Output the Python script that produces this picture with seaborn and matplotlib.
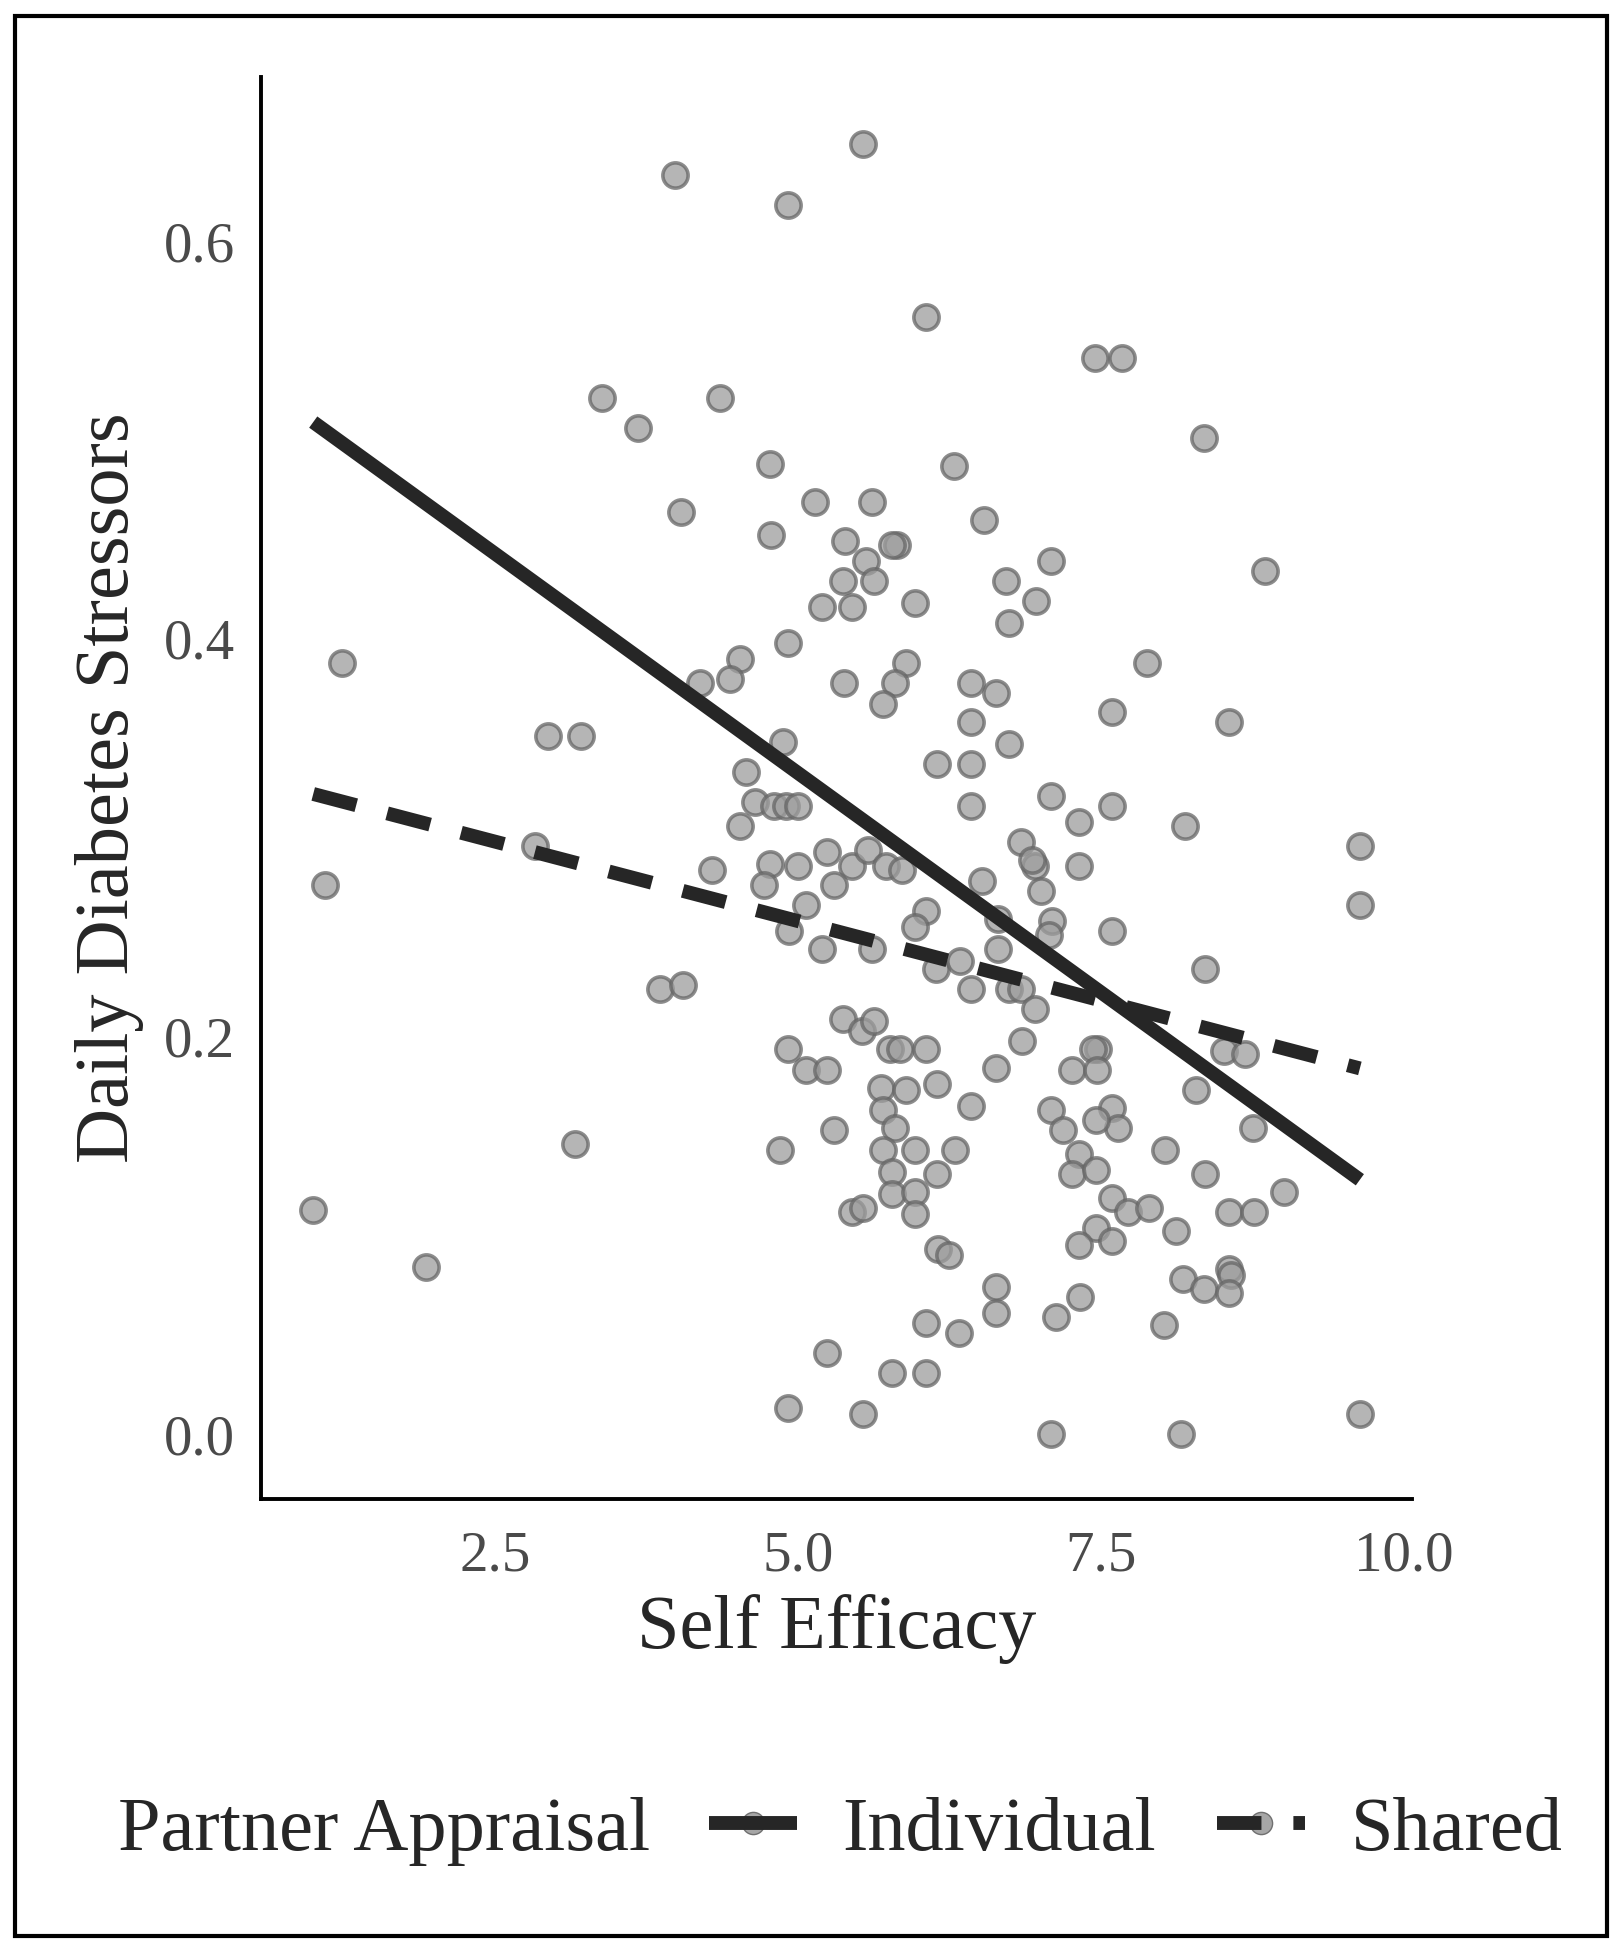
import pandas as pd
import numpy as np
import seaborn as sns
import matplotlib.pyplot as plt
from matplotlib.lines import Line2D
from matplotlib.legend_handler import HandlerTuple
from matplotlib.patches import Rectangle

sns.set_style("white")
plt.rcParams['font.family'] = ['Liberation Serif', 'DejaVu Serif']

self_efficacy = [
    5.54, 3.99, 4.92, 6.06, 7.45, 7.68, 3.38, 4.36, 3.68, 8.35,
    4.77, 6.29, 5.14, 5.61, 4.04, 6.54, 4.78, 5.39, 5.82, 5.78,
    7.09, 8.86, 5.56, 5.37, 5.63, 6.72, 5.97, 6.97, 5.20, 5.45,
    6.74, 4.92, 1.24, 7.88, 5.89, 4.52, 4.44, 4.19, 5.38, 5.80,
    6.43, 6.64, 5.70, 7.59, 6.43, 8.56, 2.94, 3.21, 6.74, 4.88,
    4.57, 6.15, 6.43, 7.09, 4.65, 4.80, 4.90, 5.00, 6.43, 7.59,
    4.52, 7.32, 8.20, 2.83, 5.24, 6.84, 9.64, 5.45, 5.58, 5.73,
    5.86, 4.29, 4.77, 5.00, 6.96, 6.93, 7.32, 1.10, 4.72, 5.30,
    6.52, 7.01, 7.10, 7.07, 5.07, 9.64, 6.06, 6.65, 4.93, 5.97,
    7.59, 5.20, 5.61, 6.65, 6.14, 6.34, 8.36, 3.86, 4.05, 6.43,
    6.74, 6.84, 6.96, 5.37, 5.53, 5.63, 5.76, 5.84, 6.06, 4.92,
    6.85, 7.48, 7.44, 7.26, 7.47, 5.07, 5.24, 6.64, 8.52, 8.69,
    5.69, 5.89, 6.15, 8.29, 6.43, 5.70, 7.09, 7.59, 5.80, 5.30,
    7.19, 7.64, 7.46, 8.76, 3.16, 4.85, 5.70, 5.97, 6.30, 7.32,
    8.03, 5.78, 6.15, 7.26, 7.46, 8.36, 5.78, 5.97, 7.59, 9.01,
    5.97, 1.00, 5.45, 5.54, 7.73, 7.90, 8.56, 8.77, 7.46, 8.12,
    7.32, 7.59, 6.16, 6.25, 1.93, 8.56, 8.58, 8.18, 8.35, 8.56,
    6.64, 6.64, 7.33, 6.06, 6.33, 7.13, 8.02, 5.24, 5.78, 6.06,
    4.92, 5.54, 9.64, 7.09, 8.16,
]
stressors = [
    0.649, 0.633, 0.618, 0.562, 0.541, 0.541, 0.521, 0.521, 0.506, 0.501,
    0.488, 0.487, 0.469, 0.469, 0.464, 0.460, 0.452, 0.449, 0.447, 0.447,
    0.439, 0.434, 0.439, 0.429, 0.429, 0.429, 0.418, 0.419, 0.416, 0.416,
    0.408, 0.398, 0.388, 0.388, 0.388, 0.390, 0.380, 0.378, 0.378, 0.378,
    0.378, 0.373, 0.367, 0.363, 0.358, 0.358, 0.351, 0.351, 0.347, 0.348,
    0.333, 0.337, 0.337, 0.321, 0.318, 0.316, 0.316, 0.316, 0.316, 0.316,
    0.306, 0.308, 0.306, 0.296, 0.293, 0.298, 0.296, 0.286, 0.294, 0.286,
    0.284, 0.284, 0.287, 0.286, 0.286, 0.289, 0.286, 0.276, 0.276, 0.276,
    0.278, 0.273, 0.258, 0.251, 0.266, 0.266, 0.263, 0.259, 0.253, 0.255,
    0.253, 0.244, 0.244, 0.244, 0.234, 0.238, 0.234, 0.224, 0.226, 0.224,
    0.224, 0.224, 0.214, 0.209, 0.203, 0.208, 0.194, 0.194, 0.194, 0.194,
    0.198, 0.194, 0.194, 0.183, 0.183, 0.183, 0.183, 0.184, 0.193, 0.191,
    0.174, 0.173, 0.176, 0.173, 0.165, 0.163, 0.163, 0.164, 0.154, 0.153,
    0.153, 0.154, 0.158, 0.154, 0.146, 0.143, 0.143, 0.143, 0.143, 0.141,
    0.143, 0.132, 0.131, 0.131, 0.133, 0.131, 0.121, 0.122, 0.119, 0.122,
    0.111, 0.113, 0.112, 0.114, 0.112, 0.114, 0.112, 0.112, 0.104, 0.102,
    0.095, 0.097, 0.093, 0.090, 0.084, 0.083, 0.080, 0.078, 0.073, 0.071,
    0.074, 0.061, 0.069, 0.056, 0.051, 0.059, 0.055, 0.041, 0.031, 0.031,
    0.013, 0.010, 0.010, 0.000, 0.000,
]

# fitted lines by partner appraisal (end points)
line_x = [1.00, 9.64]
individual_y = [0.509, 0.128]
shared_y = [0.322, 0.184]

pts = pd.DataFrame({"Self Efficacy": self_efficacy, "Stressors": stressors})
lines = pd.DataFrame({
    "x": line_x + line_x,
    "y": individual_y + shared_y,
    "Partner Appraisal": ["Individual"] * 2 + ["Shared"] * 2,
})

fig = plt.figure(figsize=(16.22, 19.5), dpi=100)
ax = fig.add_axes([0.161, 0.2313, 0.7095, 0.7292])

pt_fill, pt_edge = "#9d9d9d", "#666666"
sns.scatterplot(data=pts, x="Self Efficacy", y="Stressors", ax=ax,
                color=pt_fill, edgecolor=pt_edge, linewidth=2.6,
                s=330, alpha=0.75, legend=False, zorder=2)

line_col = "#262626"
dash = (3.2, 2.3)
sns.lineplot(data=lines, x="x", y="y", style="Partner Appraisal", ax=ax,
             dashes={"Individual": "", "Shared": dash}, color=line_col,
             linewidth=10, legend=False, zorder=3)
for ln in ax.lines:
    ln.set_solid_capstyle("butt")
    ln.set_dash_capstyle("butt")

ax.set_xlim(0.57, 10.07)
ax.set_ylim(-0.0325, 0.6825)
ax.set_xticks([2.5, 5.0, 7.5, 10.0])
ax.set_xticklabels(["2.5", "5.0", "7.5", "10.0"])
ax.set_yticks([0.0, 0.2, 0.4, 0.6])
ax.set_yticklabels(["0.0", "0.2", "0.4", "0.6"])

for side in ["top", "right"]:
    ax.spines[side].set_visible(False)
for side in ["left", "bottom"]:
    ax.spines[side].set_linewidth(2.8)
    ax.spines[side].set_color("black")

ax.tick_params(axis="both", length=11, width=2.4, color="#333333",
               labelsize=41, labelcolor="#4a4a4a", direction="out")
ax.tick_params(axis="x", pad=12)
ax.tick_params(axis="y", pad=8)
ax.set_xlabel("Self Efficacy", fontsize=55, labelpad=8)
ax.set_ylabel("Daily Diabetes Stressors", fontsize=55, labelpad=14)

# legend along the bottom: point key drawn under the line key
fig.text(0.073, 0.061, "Partner Appraisal", fontsize=55, va="center", ha="left")
key_pt = Line2D([], [], linestyle="none", marker="o", markersize=16,
                markerfacecolor=pt_fill, markeredgecolor=pt_edge, alpha=0.9)
key_ind = Line2D([], [], color=line_col, lw=10, solid_capstyle="butt")
key_sh = Line2D([], [], color=line_col, lw=10, dashes=dash, dash_capstyle="butt")
fig.legend([(key_pt, key_ind), (key_pt, key_sh)], ["Individual", "Shared"],
           handler_map={tuple: HandlerTuple(ndivide=1, pad=0)},
           loc="center left", bbox_to_anchor=(0.437, 0.061), ncol=2,
           frameon=False, fontsize=55, handlelength=1.15, handletextpad=0.6,
           columnspacing=0.8, borderpad=0, borderaxespad=0)

# outer frame
fig.add_artist(Rectangle((0.009, 0.007), 0.982, 0.985, transform=fig.transFigure,
                         fill=False, edgecolor="black", linewidth=3))

fig.savefig("out.png", dpi=100)
